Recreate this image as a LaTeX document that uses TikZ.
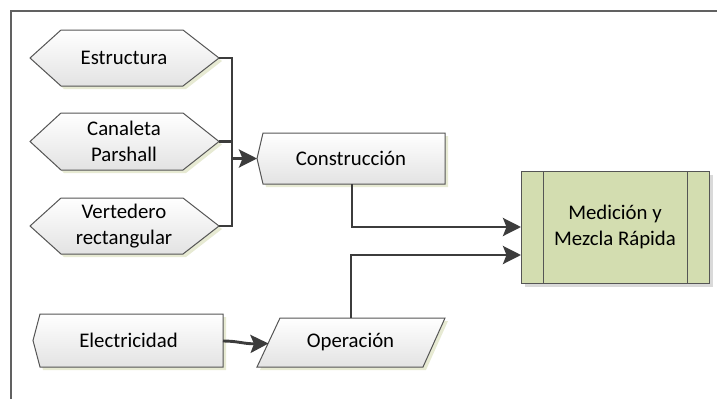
\documentclass[tikz,border=0pt]{standalone}
\usepackage{fontspec}
\setmainfont{Carlito}
\usetikzlibrary{arrows.meta,calc}
\definecolor{shd}{HTML}{E7EAD3}
\definecolor{grn}{HTML}{D3DDB0}
\definecolor{edge}{HTML}{555555}
\definecolor{wire}{HTML}{3C3C3C}
\begin{document}
\begin{tikzpicture}[x=1pt,y=-1pt,
  outline/.style={draw=edge, line width=1pt, top color=white, bottom color=black!11},
  shadowbox/.style={fill=shd, draw=none},
  conn/.style={draw=wire, line width=2.9pt},
  arr/.style={conn, -{Stealth[length=18pt,width=18pt,inset=3.5pt]}},
  lbl/.style={font=\fontsize{20.8}{25.5}\selectfont, align=center, inner sep=0pt, text=black}]
\useasboundingbox (0,0) rectangle (717,399);

% page frame (top and left edges)
\draw[black!62, line width=1.1pt] (11,399) -- (11,11) -- (717,11);

% ---- hexagonal inputs ----
\foreach \t/\b in {30/86, 113/170, 198/254}{
  \fill[shadowbox,shift={(3,3)}] (30,{(\t+\b)/2}) -- (61,\t) -- (183,\t) -- (219,{(\t+\b)/2}) -- (183,\b) -- (61,\b) -- cycle;
  \path[outline] (30,{(\t+\b)/2}) -- (61,\t) -- (183,\t) -- (219,{(\t+\b)/2}) -- (183,\b) -- (61,\b) -- cycle;
}
\node[lbl] (est) at (124,58) {Estructura};
\node[lbl] (can) at (124,141.5) {Canaleta\\Parshall};
\node[lbl] (ver) at (124,226) {Vertedero\\rectangular};
\coordinate (estE) at (219,58);
\coordinate (canE) at (219,141.5);
\coordinate (verE) at (219,226);

% ---- Construcción ----
\fill[shadowbox,shift={(3,3)}] (257,158.5) -- (263,133) -- (445,133) -- (445,184) -- (263,184) -- cycle;
\path[outline] (257,158.5) -- (263,133) -- (445,133) -- (445,184) -- (263,184) -- cycle;
\node[lbl] (con) at (351,158.5) {Construcción};
\coordinate (conW) at (257,158.5);
\coordinate (conS) at (352,184);

% ---- Electricidad ----
\fill[shadowbox,shift={(3,3)}] (33,340.5) -- (40,314) -- (223,314) -- (223,367) -- (40,367) -- cycle;
\path[outline] (33,340.5) -- (40,314) -- (223,314) -- (223,367) -- (40,367) -- cycle;
\node[lbl] (ele) at (128.5,340.5) {Electricidad};
\coordinate (eleE) at (223,341);

% ---- Operación ----
\fill[shadowbox,shift={(3,3)}] (280,318) -- (445,318) -- (423,367) -- (257,367) -- cycle;
\path[outline] (280,318) -- (445,318) -- (423,367) -- (257,367) -- cycle;
\node[lbl] (ope) at (350.5,342.5) {Operación};
\coordinate (opeW) at (268.5,343.5);
\coordinate (opeN) at (351,318);

% ---- Medición y Mezcla Rápida ----
\fill[black!15,shift={(4,4)}] (521,171) rectangle (709,283);
\draw[edge, line width=1pt, fill=grn] (521,171) rectangle (709,283);
\draw[edge, line width=1pt] (543,171) -- (543,283) (687,171) -- (687,283);
\node[lbl] (med) at (615,227) {Medición y\\Mezcla Rápida};
\coordinate (medA) at (521,227);
\coordinate (medB) at (521,255);

% ---- connectors ----
\coordinate (busT) at (232,58);
\coordinate (busB) at (232,226);
\coordinate (busM) at (232,158.5);
\draw[conn, line join=miter] (estE) -- (busT) -- (busB) -- (verE);
\draw[conn] (canE) -- (canE -| busB);
\draw[arr] (busM) -- (conW);
\draw[arr, line join=miter] (conS) |- (medA);
\draw[arr, line join=miter] (opeN) |- (medB);
\draw[arr] (eleE) .. controls (238,341) and (244,344) .. (opeW);
\end{tikzpicture}
\end{document}
